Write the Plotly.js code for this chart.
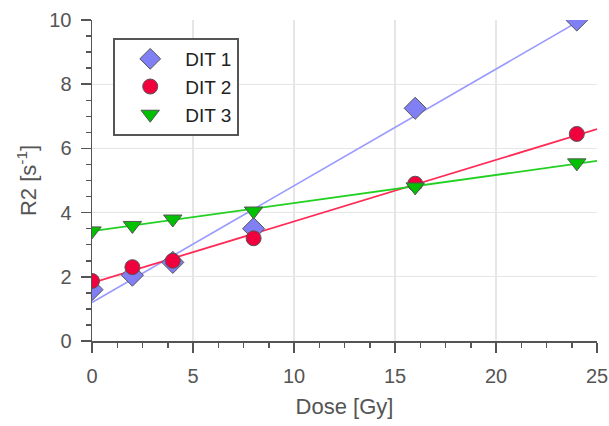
<!DOCTYPE html>
<html><head><meta charset="utf-8">
<script src="https://cdn.plot.ly/plotly-3.0.1.min.js"></script>
<style>body{margin:0;background:#fff}#chart{width:609px;height:426px}</style>
</head><body><div id="chart"></div>
<script>
const dose = [0, 2, 4, 8, 16, 24];
const dit1 = [1.6, 2.05, 2.45, 3.5, 7.25, 10.0];
const dit2 = [1.87, 2.3, 2.5, 3.2, 4.9, 6.45];
const dit3 = [3.43, 3.6, 3.8, 4.05, 4.8, 5.55];
const seriesNames = ['DIT 1', 'DIT 2', 'DIT 3'];
// linear fit lines (endpoints)
const fitX = [0, 25];
const fit1 = [1.2, 10.29];
const fit2 = [1.81, 6.6];
const fit3 = [3.42, 5.61];

const font = 'Liberation Sans, Arial, sans-serif';
const mk = (sym, col, s) => ({symbol: sym, size: s, color: col, line: {color: '#555', width: 1}});
const traces = [
  {x: fitX, y: fit1, mode: 'lines', line: {color: '#9a9aff', width: 1.6}, showlegend: false, hoverinfo: 'skip'},
  {x: fitX, y: fit2, mode: 'lines', line: {color: '#ff2a55', width: 1.8}, showlegend: false, hoverinfo: 'skip'},
  {x: fitX, y: fit3, mode: 'lines', line: {color: '#22d022', width: 1.8}, showlegend: false, hoverinfo: 'skip'},
  {x: dose, y: dit1, mode: 'markers', name: seriesNames[0], marker: mk('diamond', '#8080f4', 17)},
  {x: dose, y: dit2, mode: 'markers', name: seriesNames[1], marker: mk('circle', '#f0003c', 15)},
  {x: dose, y: dit3, mode: 'markers', name: seriesNames[2], marker: mk('triangle-down', '#00c000', 16)}
];
const axisCommon = {
  showline: true, linecolor: '#555', linewidth: 1.5,
  ticks: 'outside', ticklen: 10, tickcolor: '#555', tickwidth: 1.5,
  showgrid: true, gridcolor: '#e6e6e6', gridwidth: 1.2, zeroline: false,
  tickfont: {family: font, size: 20, color: '#555'},
  mirror: false
};
const layout = {
  width: 609, height: 426,
  margin: {l: 92, r: 12, t: 20, b: 85},
  paper_bgcolor: '#fff', plot_bgcolor: '#fff',
  font: {family: font, color: '#555'},
  xaxis: Object.assign({}, axisCommon, {
    range: [0, 25], dtick: 5, tick0: 0, ticklabelstandoff: 6,
    minor: {dtick: 1.25, tick0: 0, ticks: 'outside', ticklen: 5, tickcolor: '#555', tickwidth: 1.5, showgrid: false},
    title: {text: 'Dose [Gy]', font: {family: font, size: 22, color: '#555'}, standoff: 13}
  }),
  yaxis: Object.assign({}, axisCommon, {
    range: [0, 10], dtick: 2, tick0: 0, ticklabelstandoff: 5,
    minor: {dtick: 0.5, tick0: 0, ticks: 'outside', ticklen: 5, tickcolor: '#555', tickwidth: 1.5, showgrid: false},
    title: {text: 'R2 [s<sup>-1</sup>]', font: {family: font, size: 22, color: '#555'}, standoff: 6}
  }),
  legend: {
    x: 0.042, y: 0.944, xanchor: 'left', yanchor: 'top',
    bordercolor: '#555', borderwidth: 2, bgcolor: '#fff',
    font: {family: font, size: 19, color: '#222'},
    itemwidth: 60, tracegroupgap: 0
  },
  showlegend: true
};
Plotly.newPlot('chart', traces, layout, {displayModeBar: false, staticPlot: true});
</script></body></html>
